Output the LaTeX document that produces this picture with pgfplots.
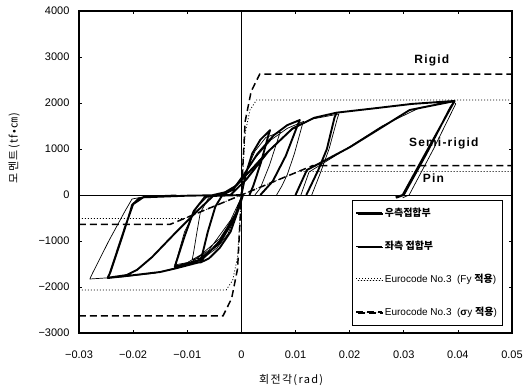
\documentclass[border=0pt]{standalone}
\usepackage{fontspec}
\usepackage{pgfplots}
\pgfplotsset{compat=1.18}
\usetikzlibrary{shadows}
\setmainfont{Liberation Sans}
\newfontfamily\cjk{Noto Sans CJK KR}
\newfontfamily\cjkwide{Noto Sans CJK KR}[LetterSpace=12]
\newfontfamily\tagfont{Liberation Sans}[LetterSpace=10]

% right-hand joint (thick curve); nan rows separate the recorded branches
\pgfplotstableread{
x y
0 0
0.0008 450
0.002 900
0.0035 1200
0.0053 1410
0.0050 1300
0.0036 700
0.0022 200
0.0015 0
nan nan
0.0003 0
-0.0005 -300
-0.002 -800
-0.004 -1150
-0.006 -1380
-0.0076 -1470
-0.0074 -1380
-0.0062 -800
-0.0048 -250
-0.0035 0
-0.0015 120
0.0005 450
0.003 900
0.006 1300
0.0085 1520
0.0108 1630
0.0104 1520
0.0082 850
0.0058 300
0.0035 0
nan nan
0.0002 0
-0.001 -450
-0.004 -1050
-0.008 -1420
-0.0123 -1560
-0.0120 -1450
-0.0105 -900
-0.0088 -350
-0.0068 -50
-0.0052 0
-0.003 60
-0.001 200
0.001 450
0.005 950
0.0095 1450
0.0135 1680
0.0176 1790
0.0172 1680
0.0158 1000
0.0142 540
0.0120 0
nan nan
0.0002 0
-0.001 -400
-0.004 -1000
-0.0077 -1460
-0.0123 -1600
-0.015 -1674
-0.0212 -1760
-0.0247 -1805
-0.0242 -1680
-0.022 -900
-0.0205 -350
-0.0202 -217
-0.019 -80
-0.018 -50
-0.010 -15
-0.002 0
0.001 350
0.005 950
0.0095 1450
0.0135 1680
0.0176 1790
0.025 1890
0.0315 1980
0.0394 2045
0.0388 1920
0.034 900
0.0298 0
0.0285 -50
nan nan
0.0002 0
-0.0052 -20
-0.008 -330
-0.012 -800
-0.0165 -1350
-0.0193 -1630
-0.0212 -1740
-0.0247 -1800
-0.0243 -1700
-0.0215 -700
-0.0200 -200
-0.018 -40
-0.012 -10
nan nan
0.0100 0
0.0121 543
0.0201 1043
0.0311 1848
0.0394 2043
0.0386 1900
0.0342 900
0.0300 0
0.0286 -60
}\rightjoint

% left-hand joint (thin curve)
\pgfplotstableread{
x y
0 0
0.0010 550
0.0025 950
0.0045 1250
0.0072 1370
0.0069 1270
0.0052 650
0.0035 150
0.0025 0
nan nan
0.0003 0
-0.0008 -350
-0.0025 -850
-0.0045 -1150
-0.0068 -1350
-0.0091 -1410
-0.0089 -1300
-0.0082 -800
-0.0076 -390
-0.0060 -50
-0.0045 0
-0.002 100
0 350
0.0025 800
0.0055 1200
0.0085 1450
0.0115 1600
0.0112 1500
0.0098 900
0.0085 450
0.0075 200
0.0065 0
nan nan
0.0002 0
-0.0012 -450
-0.004 -950
-0.0075 -1300
-0.0100 -1470
-0.0123 -1520
-0.0120 -1420
-0.0105 -800
-0.0082 -260
-0.0062 -30
-0.0048 0
-0.002 80
0 300
0.004 850
0.009 1400
0.013 1650
0.0180 1760
0.0177 1650
0.0162 1000
0.0145 450
0.0130 0
nan nan
0.0002 0
-0.002 -550
-0.006 -1200
-0.010 -1520
-0.016 -1700
-0.022 -1780
-0.028 -1826
-0.0275 -1700
-0.0245 -1000
-0.0215 -350
-0.0202 -87
-0.0182 -43
-0.010 -10
nan nan
0.0110 0
0.0125 500
0.018 900
0.0260 1500
0.0330 1900
0.0392 2030
0.0396 1980
0.0355 1000
0.0310 0
0.0298 -60
}\leftjoint

\begin{document}
\begin{tikzpicture}
\useasboundingbox (-79pt,-53pt) rectangle (452pt,333pt);
\begin{axis}[
  width=433pt, height=322pt, scale only axis,
  xmin=-0.03, xmax=0.05, ymin=-3000, ymax=4000,
  unbounded coords=jump,
  xtick={-0.03,-0.02,-0.01,0,0.01,0.02,0.03,0.04,0.05},
  xticklabels={−0.03,−0.02,−0.01,0,0.01,0.02,0.03,0.04,0.05},
  ytick={-3000,-2000,-1000,0,1000,2000,3000,4000},
  yticklabels={−3000,−2000,−1000,0,1000,2000,3000,4000},
  tick align=inside, major tick length=3pt,
  tick style={black, line width=0.5pt},
  axis line style={line width=1.1pt},
  ticklabel style={font=\fontsize{11}{13}\selectfont},
  xticklabel style={anchor=center, yshift=-22pt},
  yticklabel style={anchor=east, xshift=-6pt},
  legend cell align=left,
  legend style={at={(0.977,0.025)}, anchor=south east,
    draw=black, line width=0.4pt, fill=white,
    drop shadow={shadow xshift=1.2pt, shadow yshift=-1.2pt, fill=black, opacity=1},
    font=\fontsize{10}{12}\selectfont, row sep=19pt,
    inner xsep=3pt, inner ysep=6pt},
  legend image code/.code={\draw[#1] (0cm,0cm) -- (0.9cm,0cm);},
  clip=false,
]
% zero lines
\addplot[forget plot, black, line width=0.4pt] coordinates {(-0.03,0) (0.05,0)};
\addplot[forget plot, black, line width=0.4pt] coordinates {(0,-3000) (0,4000)};

\addplot[black, line width=1.9pt, line join=round] table {\rightjoint};
\addlegendentry{{\cjk\bfseries 우측접합부}}
\addplot[black, line width=0.7pt, line join=round] table {\leftjoint};
\addlegendentry{{\cjk\bfseries 좌측 접합부}}

% Eurocode No.3 with Fy
\addplot[black, line width=0.8pt, dash pattern=on 1pt off 2pt] coordinates {
 (-0.03,-2065) (-0.0028,-2065) (-0.0016,-1850) (-0.0007,-1350) (0,0)
 (0.0007,1350) (0.0016,1850) (0.0028,2065) (0.05,2065)};
\addlegendentry{Eurocode No.3 \ (Fy {\cjk\bfseries 적용})}
\addplot[forget plot, black, line width=0.8pt, dash pattern=on 1pt off 2pt] coordinates {
 (-0.03,-510) (-0.0105,-510) (0,0) (0.0105,510) (0.05,510)};

% Eurocode No.3 with sigma_y
\addplot[black, line width=1.5pt, dash pattern=on 7pt off 4pt] coordinates {
 (-0.03,-2630) (-0.0034,-2630) (-0.0018,-2250) (-0.0007,-1600) (0,0)
 (0.0007,1600) (0.0018,2250) (0.0034,2630) (0.05,2630)};
\addlegendentry{Eurocode No.3 \ (\textbf{σ}y {\cjk\bfseries 적용})}
\addplot[forget plot, black, line width=1.5pt, dash pattern=on 7pt off 4pt] coordinates {
 (-0.03,-640) (-0.0132,-640) (0,0) (0.0132,640) (0.05,640)};

\node[font=\tagfont\bfseries\fontsize{12}{14}\selectfont] at (axis cs:0.0352,2935) {Rigid};
\node[font=\tagfont\bfseries\fontsize{12}{14}\selectfont] at (axis cs:0.0374,1130) {Semi-rigid};
\node[font=\tagfont\bfseries\fontsize{12}{14}\selectfont] at (axis cs:0.0355,370) {Pin};

% axis titles
\node[font=\cjkwide\fontsize{11}{13}\selectfont, anchor=center]
  at (rel axis cs:0.49,-0.146) {회전각(rad)};
\node[font=\cjkwide\fontsize{11}{13}\selectfont, rotate=90, anchor=center]
  at (rel axis cs:-0.150,0.575) {모멘트(tf•㎝)};
\end{axis}
\end{tikzpicture}
\end{document}
